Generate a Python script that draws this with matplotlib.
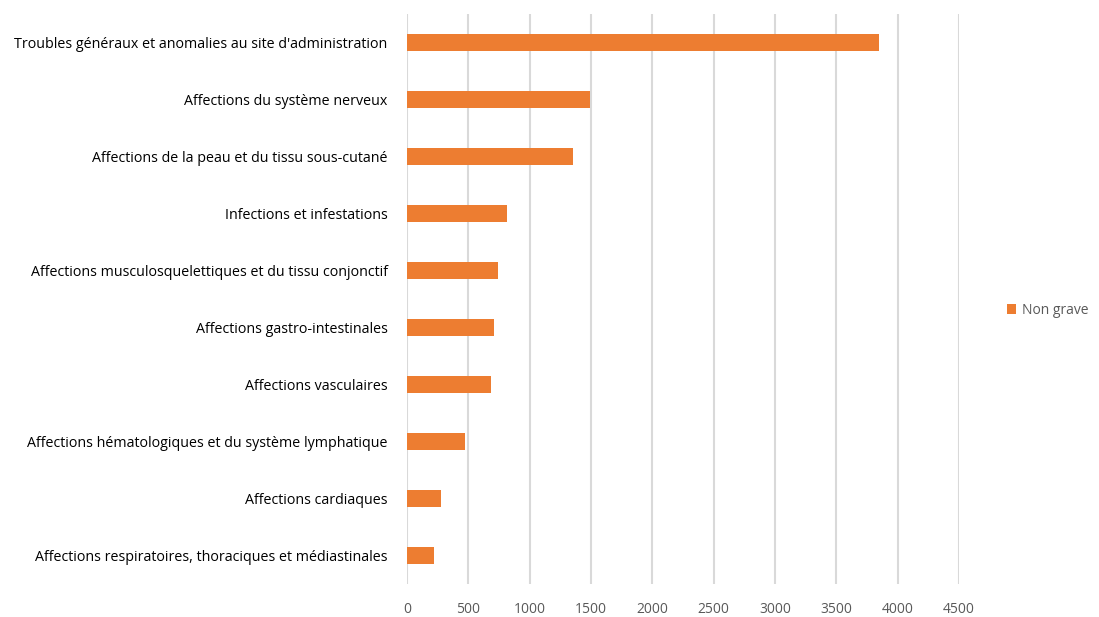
import matplotlib
matplotlib.use("Agg")
import matplotlib.pyplot as plt
from matplotlib.patches import Patch

categories = [
    "Troubles généraux et anomalies au site d'administration",
    "Affections du système nerveux",
    "Affections de la peau et du tissu sous-cutané",
    "Infections et infestations",
    "Affections musculosquelettiques et du tissu conjonctif",
    "Affections gastro-intestinales",
    "Affections vasculaires",
    "Affections hématologiques et du système lymphatique",
    "Affections cardiaques",
    "Affections respiratoires, thoraciques et médiastinales",
]
values = [3845, 1488, 1350, 815, 742, 712, 682, 474, 276, 219]
series_name = "Non grave"
xticks = [0, 500, 1000, 1500, 2000, 2500, 3000, 3500, 4000, 4500]

plt.rcParams['font.family'] = ['Open Sans', 'DejaVu Sans']

fig = plt.figure(figsize=(10.99, 6.17), dpi=100)
ax = fig.add_axes([407/1099, 1 - 584/617, (959 - 407)/1099, (584 - 14)/617])

y = list(range(len(categories)))
ax.barh(y, values, height=0.3, color="#ED7D31", zorder=3)
ax.set_ylim(len(categories) - 0.5, -0.5)
ax.set_xlim(0, 4500)
ax.set_yticks(y)
ax.set_yticklabels(categories, fontsize=10.3, color="#000000")
ax.set_xticks(xticks)
ax.set_xticklabels([str(t) for t in xticks], fontsize=10, color="#595959")
ax.tick_params(axis='both', length=0)
ax.tick_params(axis='x', pad=13)
ax.tick_params(axis='y', pad=14)
ax.grid(axis='x', color="#D9D9D9", linewidth=1.5, zorder=0)
for s in ax.spines.values():
    s.set_visible(False)

handle = Patch(facecolor="#ED7D31", edgecolor="none")
fig.legend([handle], [series_name], loc='center left', bbox_to_anchor=(994/1099, 1 - 310/617),
           frameon=False, fontsize=10, handlelength=0.7, handleheight=0.7, handletextpad=0.4,
           labelcolor="#595959")

fig.savefig("out.png", dpi=100)
